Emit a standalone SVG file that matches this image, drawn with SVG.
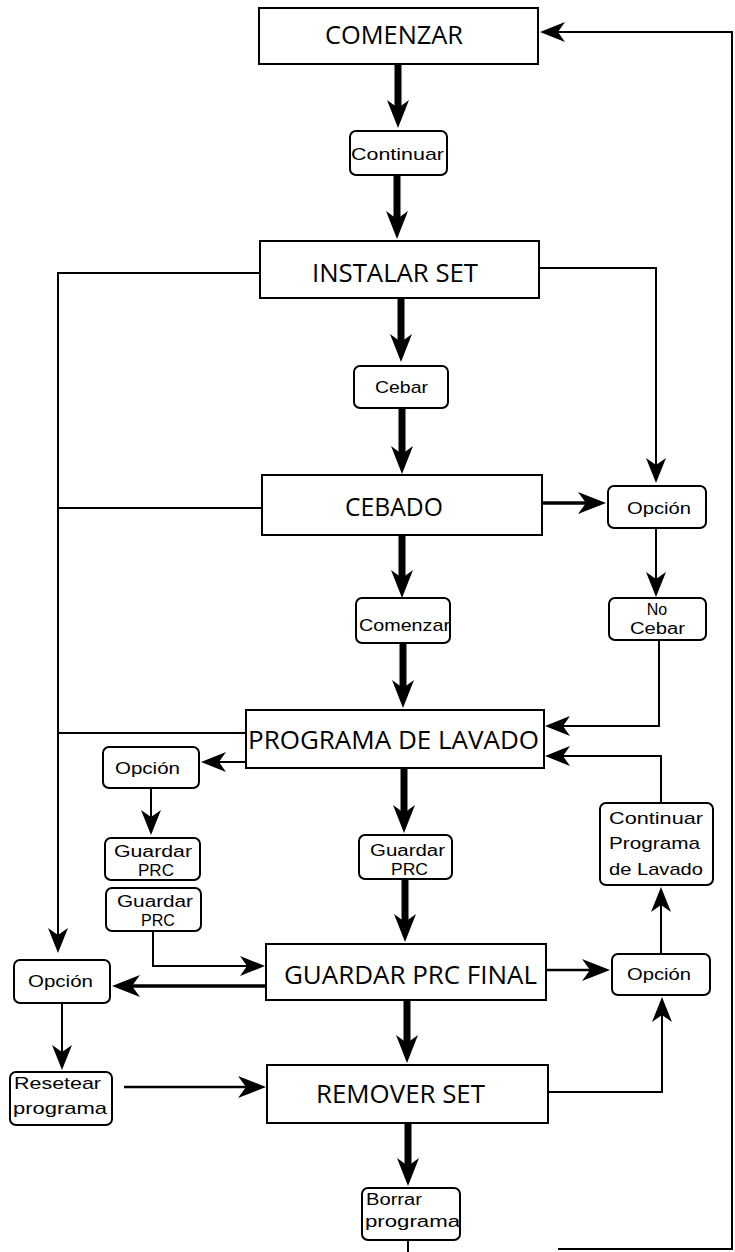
<svg xmlns="http://www.w3.org/2000/svg" width="735" height="1252" viewBox="0 0 735 1252">
<defs>
<style>
.main{fill:#fff;stroke:#000;stroke-width:2}
.small{fill:#fff;stroke:#000;stroke-width:2}
.lt{font-family:"Open Sans","Liberation Sans",sans-serif;font-size:26px;fill:#000}
.st{font-family:"Liberation Sans",Arial,sans-serif;font-size:17px;fill:#000}
.s2{font-family:"Liberation Sans",Arial,sans-serif;font-size:16px;fill:#000}
.thick{fill:none;stroke:#000;stroke-width:7;marker-end:url(#big)}
.thin{fill:none;stroke:#000;stroke-width:2;marker-end:url(#sm)}
.med{fill:none;stroke:#000;stroke-width:3.5;marker-end:url(#big)}
.plain{fill:none;stroke:#000;stroke-width:2}
</style>
<marker id="big" markerUnits="userSpaceOnUse" viewBox="-14 -12 32 24" markerWidth="32" markerHeight="24" refX="0" refY="0" orient="auto">
<path d="M-12,-11 L16,0 L-12,11 L-4,0 Z" fill="#000"/>
</marker>
<marker id="sm" markerUnits="userSpaceOnUse" viewBox="-11 -11 27 22" markerWidth="27" markerHeight="22" refX="0" refY="0" orient="auto">
<path d="M-10,-10 L15,0 L-10,10 L-3,0 Z" fill="#000"/>
</marker>
</defs>
<rect width="735" height="1252" fill="#fff"/>
<g id="connectors">
<path class="thick" d="M398,64 V112"/>
<path class="thick" d="M397,176 V223"/>
<path class="thick" d="M401,299 V346"/>
<path class="thick" d="M402,409 V458"/>
<path class="thick" d="M402,536 V582"/>
<path class="thick" d="M403,644 V692"/>
<path class="thick" d="M404,769 V817"/>
<path class="thick" d="M405,880 V926"/>
<path class="thick" d="M407,1001 V1047"/>
<path class="thick" d="M408,1124 V1170"/>
<path class="thin" d="M732,1249 V32 H555"/>
<path class="plain" d="M558,1249 H733"/>
<path class="plain" d="M408,1240 V1252"/>
<path class="thin" d="M260,273 H58 V938"/>
<path class="plain" d="M262,508 H58"/>
<path class="plain" d="M246,733 H58"/>
<path class="thin" d="M539,268 H656 V468"/>
<path class="thick" d="M542,503 H590" style="stroke-width:3.5"/>
<path class="thin" d="M656,529 V582"/>
<path class="thin" d="M659,640 V726 H560"/>
<path class="thin" d="M661,803 V756 H560"/>
<path class="thin" d="M246,762 H216"/>
<path class="thin" d="M151,789 V820"/>
<path class="thin" d="M153,931 V966 H250"/>
<path class="med" d="M266,986 H128"/>
<path class="thin" d="M62,1004 V1055"/>
<path class="thick" d="M124,1087 H250" style="stroke-width:2.5"/>
<path class="thick" d="M546,970 H594" style="stroke-width:2.5"/>
<path class="thin" d="M661,954 V902"/>
<path class="thin" d="M548,1092 H662 V1012"/>
</g>
<g id="n-comenzar"><rect class="main" x="259" y="8" width="279" height="56"/><text class="lt" x="325" y="44" textLength="138" lengthAdjust="spacingAndGlyphs">COMENZAR</text></g>
<g id="n-continuar"><rect class="small" x="350" y="131" width="97" height="44" rx="6"/><text class="st" x="351" y="160" textLength="93" lengthAdjust="spacingAndGlyphs">Continuar</text></g>
<g id="n-instalar"><rect class="main" x="260" y="241" width="279" height="57"/><text class="lt" x="312" y="282" textLength="166" lengthAdjust="spacingAndGlyphs">INSTALAR SET</text></g>
<g id="n-cebar"><rect class="small" x="354" y="366" width="94" height="42" rx="6"/><text class="st" x="375" y="393" textLength="53" lengthAdjust="spacingAndGlyphs">Cebar</text></g>
<g id="n-cebado"><rect class="main" x="262" y="475" width="280" height="60"/><text class="lt" x="345" y="516" textLength="98" lengthAdjust="spacingAndGlyphs">CEBADO</text></g>
<g id="n-opcion-a"><rect class="small" x="608" y="486" width="98" height="42" rx="6"/><text class="st" x="627" y="514" textLength="64" lengthAdjust="spacingAndGlyphs">Opción</text></g>
<g id="n-nocebar"><rect class="small" x="609" y="598" width="97" height="42" rx="6"/><text class="s2" x="657" y="615" text-anchor="middle">No</text><text class="s2" x="630" y="634" textLength="55" lengthAdjust="spacingAndGlyphs">Cebar</text></g>
<g id="n-comenzar2"><rect class="small" x="356" y="598" width="94" height="45" rx="6"/><text class="st" x="359" y="631" textLength="91" lengthAdjust="spacingAndGlyphs">Comenzar</text></g>
<g id="n-programa"><rect class="main" x="246" y="710" width="298" height="58"/><text class="lt" x="248" y="749" textLength="291" lengthAdjust="spacingAndGlyphs">PROGRAMA DE LAVADO</text></g>
<g id="n-opcion-b"><rect class="small" x="103" y="747" width="96" height="41" rx="6"/><text class="st" x="115" y="774" textLength="65" lengthAdjust="spacingAndGlyphs">Opción</text></g>
<g id="n-guardar1"><rect class="small" x="105" y="838" width="95" height="42" rx="6"/><text class="s2" x="114" y="857" textLength="78" lengthAdjust="spacingAndGlyphs">Guardar</text><text class="s2" x="138" y="876" textLength="36" lengthAdjust="spacingAndGlyphs">PRC</text></g>
<g id="n-guardar2"><rect class="small" x="106" y="888" width="95" height="43" rx="6"/><text class="s2" x="117" y="907" textLength="76" lengthAdjust="spacingAndGlyphs">Guardar</text><text class="s2" x="141" y="926" textLength="34" lengthAdjust="spacingAndGlyphs">PRC</text></g>
<g id="n-guardar-mid"><rect class="small" x="359" y="835" width="93" height="44" rx="6"/><text class="s2" x="370" y="856" textLength="75" lengthAdjust="spacingAndGlyphs">Guardar</text><text class="s2" x="391" y="875" textLength="37" lengthAdjust="spacingAndGlyphs">PRC</text></g>
<g id="n-continuar-prog"><rect class="small" x="600" y="803" width="113" height="82" rx="6"/><text class="st" x="609" y="824" textLength="94" lengthAdjust="spacingAndGlyphs">Continuar</text><text class="st" x="609" y="849" textLength="91" lengthAdjust="spacingAndGlyphs">Programa</text><text class="st" x="609" y="875" textLength="94" lengthAdjust="spacingAndGlyphs">de Lavado</text></g>
<g id="n-guardar-final"><rect class="main" x="266" y="944" width="280" height="56"/><text class="lt" x="284" y="984" textLength="253" lengthAdjust="spacingAndGlyphs">GUARDAR PRC FINAL</text></g>
<g id="n-opcion-c"><rect class="small" x="14" y="960" width="96" height="43" rx="6"/><text class="st" x="28" y="987" textLength="65" lengthAdjust="spacingAndGlyphs">Opción</text></g>
<g id="n-opcion-d"><rect class="small" x="612" y="954" width="98" height="41" rx="6"/><text class="st" x="627" y="980" textLength="64" lengthAdjust="spacingAndGlyphs">Opción</text></g>
<g id="n-resetear"><rect class="small" x="10" y="1072" width="102" height="53" rx="6"/><text class="st" x="14" y="1089" textLength="87" lengthAdjust="spacingAndGlyphs">Resetear</text><text class="st" x="13" y="1114" textLength="94" lengthAdjust="spacingAndGlyphs">programa</text></g>
<g id="n-remover"><rect class="main" x="267" y="1065" width="281" height="58"/><text class="lt" x="316" y="1103" textLength="169" lengthAdjust="spacingAndGlyphs">REMOVER SET</text></g>
<g id="n-borrar"><rect class="small" x="362" y="1188" width="98" height="52" rx="6"/><text class="s2" x="366" y="1205" textLength="56" lengthAdjust="spacingAndGlyphs">Borrar</text><text class="s2" x="365" y="1227" textLength="95" lengthAdjust="spacingAndGlyphs">programa</text></g>
</svg>
